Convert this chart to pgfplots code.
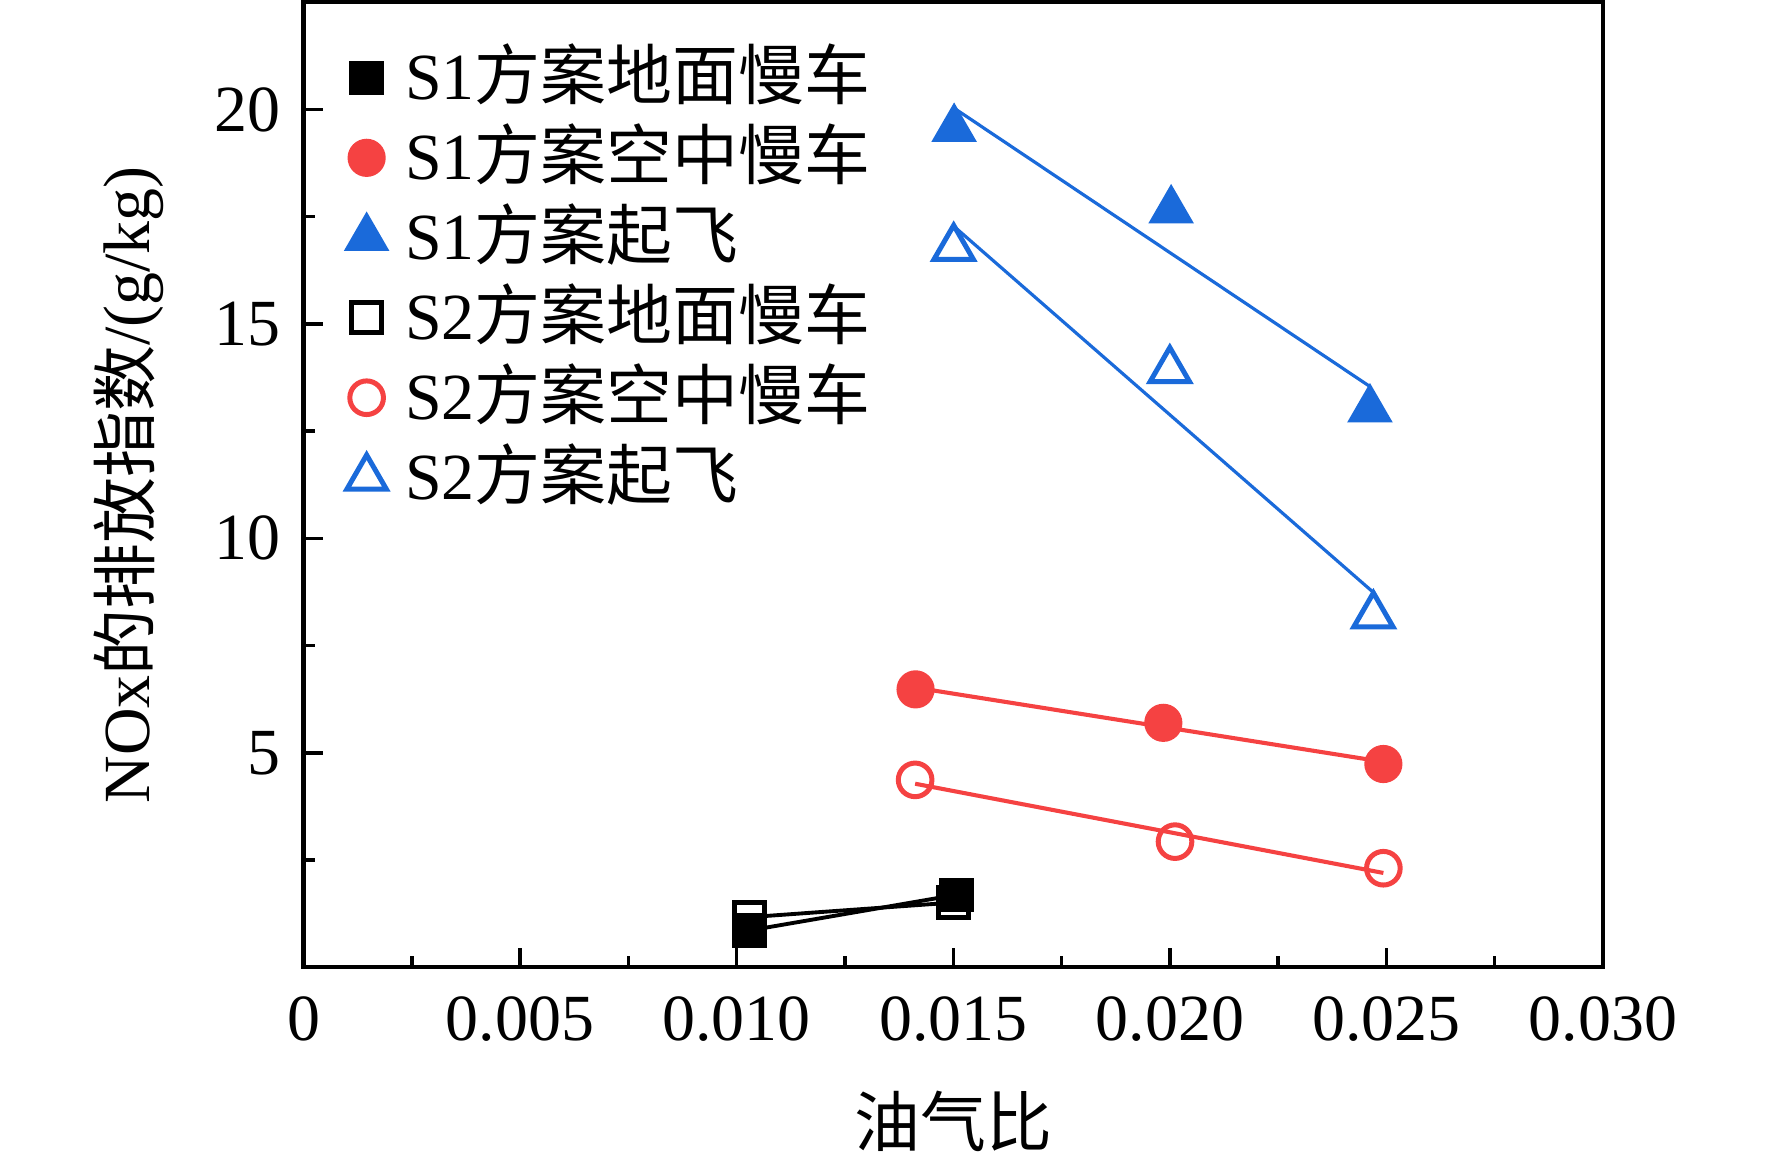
\documentclass[border=0pt]{standalone}
\usepackage{pgfplots}
\pgfplotsset{compat=1.18}
\usepackage{fontspec}
\setmainfont{Liberation Serif}
\newfontfamily\cjk{Noto Sans CJK SC}
\definecolor{myblue}{RGB}{26,106,218}
\definecolor{myred}{RGB}{245,66,66}
\begin{document}
\fontsize{14.5}{17.4}\selectfont
\begin{tikzpicture}
\path[use as bounding box] (-66.8pt,-42.8pt) rectangle (323.2pt,212.9pt);
\begin{axis}[
  at={(0pt,0pt)}, anchor=south west,
  scale only axis, width=286pt, height=212.4pt,
  xmin=0, xmax=0.03, ymin=0, ymax=22.5,
  xtick={0,0.005,0.01,0.015,0.02,0.025,0.03},
  xticklabels={0,0.005,0.010,0.015,0.020,0.025,0.030},
  minor xtick={0.0025,0.0075,0.0125,0.0175,0.0225,0.0275},
  ytick={5,10,15,20},
  minor ytick={2.5,7.5,12.5,17.5},
  tick align=inside, xtick pos=bottom, ytick pos=left,
  major tick length=4.2pt, minor tick length=2.5pt,
  axis line style={line width=0.9pt},
  every tick/.style={line width=0.75pt, black},
  scaled x ticks=false,
  /pgf/number format/assume math mode=true,
  tick label style={font=\fontsize{14.5}{17}\selectfont},
  xticklabel style={yshift=-1.5pt},
  xlabel={{\cjk 油气比}},
  ylabel={NOx{\cjk 的排放指数}/(g/kg)},
  xlabel style={at={([yshift=-33.8pt]axis description cs:0.5,0)}, anchor=center, font=\fontsize{14.5}{17}\selectfont},
  ylabel style={at={([xshift=-38.4pt]axis description cs:0,0.5)}, anchor=center, font=\fontsize{14.5}{17}\selectfont},
  legend cell align=left,
  legend style={at={(axis description cs:0.0262,0.964)}, anchor=north west,
    draw=none, fill=none, inner sep=0pt, row sep=0pt,
    font=\fontsize{14.5}{17}\selectfont,
    nodes={inner sep=0pt, text height=13.5pt, text depth=4.1pt}},
  legend image code/.code={\path (-6pt,0pt) (8.3pt,0pt); \draw[#1] plot coordinates {(0pt,0pt)};},
]
% markers
\addplot[only marks, mark=square*, mark size=3.3pt, mark options={fill=black, draw=black, line width=1pt}]
  coordinates {(0.0103,0.86) (0.01507,1.69)};
\addlegendentry{S1{\cjk 方案地面慢车}}
\addplot[only marks, mark=*, mark size=3.9pt, mark options={fill=myred, draw=myred, line width=0.6pt}]
  coordinates {(0.01413,6.48) (0.01985,5.70) (0.02493,4.74)};
\addlegendentry{S1{\cjk 方案空中慢车}}
\addplot[only marks, mark=triangle*, mark size=5.2pt, mark options={fill=myblue, draw=myblue, line width=0.6pt}]
  coordinates {(0.01502,19.55) (0.02003,17.65) (0.02462,13.01)};
\addlegendentry{S1{\cjk 方案起飞}}
\addplot[only marks, mark=square, mark size=3.3pt, mark options={fill=white, draw=black, line width=1.1pt}]
  coordinates {(0.0103,1.17) (0.0150,1.51)};
\addlegendentry{S2{\cjk 方案地面慢车}}
\addplot[only marks, mark=o, mark size=3.7pt, mark options={fill=white, draw=myred, line width=1.1pt}]
  coordinates {(0.01412,4.37) (0.02012,2.93) (0.02493,2.31)};
\addlegendentry{S2{\cjk 方案空中慢车}}
\addplot[only marks, mark=triangle, mark size=5.0pt, mark options={fill=white, draw=myblue, line width=1.1pt}]
  coordinates {(0.01501,16.77) (0.0200,13.92) (0.0247,8.20)};
\addlegendentry{S2{\cjk 方案起飞}}
% lines
\addplot[forget plot, black, line width=0.85pt] coordinates {(0.0103,0.86) (0.01507,1.69)};
\addplot[forget plot, black, line width=0.85pt] coordinates {(0.0103,1.17) (0.0150,1.51)};
\addplot[forget plot, myred, line width=0.9pt] coordinates {(0.01413,6.52) (0.02493,4.79)};
\addplot[forget plot, myred, line width=0.9pt] coordinates {(0.01412,4.28) (0.02493,2.20)};
\addplot[forget plot, myblue, line width=0.7pt] coordinates {(0.01502,20.03) (0.02462,13.54)};
\addplot[forget plot, myblue, line width=0.7pt] coordinates {(0.01501,17.28) (0.0247,8.74)};
\end{axis}
\end{tikzpicture}
\end{document}
